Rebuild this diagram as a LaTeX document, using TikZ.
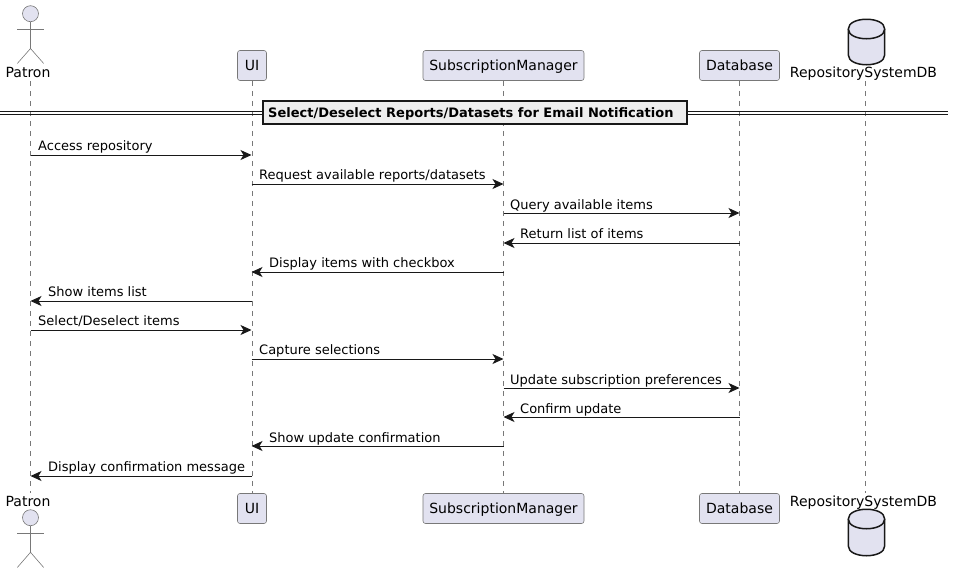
\documentclass[tikz,border=0pt]{standalone}
\usepackage{fontspec}
\setmainfont{DejaVu Sans}
\usepackage{tikz}
\usetikzlibrary{arrows.meta}
\definecolor{partfill}{HTML}{E2E2F0}
\definecolor{partline}{HTML}{181818}
\definecolor{softline}{HTML}{787878}
\definecolor{grpfill}{HTML}{EEEEEE}

\begin{document}
\begin{tikzpicture}[x = 1pt, y = -1pt,
                        part/.style={draw=softline, fill=partfill, line width=.6pt, rounded corners=2.5pt, inner sep=0, minimum height=30pt, font=\fontsize{14}{16}\selectfont, text height=12pt, text depth=3pt},
                        tag/.style={inner sep=0, font=\fontsize{14}{16}\selectfont, text height=12pt, text depth=3pt, anchor=base},
                        life/.style={draw=softline, line width=.6pt, dash pattern=on 5pt off 5pt},
                        limb/.style={draw=softline, line width=.6pt, fill=none},
                        dbase/.style={draw=partline, fill=partfill, line width=1.5pt},
                        msg/.style={draw=partline, line width=1pt, -{Stealth[length=11pt, width=10pt, inset=3pt]}},
                        txt/.style={inner sep=0, anchor=base west, text=black, font=\fontsize{13}{15}\selectfont}]
      \useasboundingbox (0,0) rectangle (954,573);

      % top row
      \node[tag] (patron1) at (28,77.5) {Patron};
      \node[part, minimum width=29pt] (ui1) at (252,65.5) {UI};
      \node[part, minimum width=161pt] (mgr1) at (503.5,65.5) {SubscriptionManager};
      \node[part, minimum width=80pt] (db1) at (739.5,65.5) {Database};
      \node[tag] (repo1) at (863.5,77.5) {RepositorySystemDB};

      % bottom row
      \node[tag] (patron2) at (28,506) {Patron};
      \node[part, minimum width=29pt] (ui2) at (252,508.5) {UI};
      \node[part, minimum width=161pt] (mgr2) at (503.5,508.5) {SubscriptionManager};
      \node[part, minimum width=80pt] (db2) at (739.5,508.5) {Database};
      \node[tag] (repo2) at (863.5,506) {RepositorySystemDB};

      % lifelines
      \coordinate (patrontop) at (30.5,81);
      \coordinate (patronbot) at (30.5,493);
      \coordinate (repotop) at (865.5,81);
      \coordinate (repobot) at (865.5,493);
      \draw[life] (patrontop) -- (patronbot);
      \draw[life] (ui1) -- (ui2);
      \draw[life] (mgr1) -- (mgr2);
      \draw[life] (db1) -- (db2);
      \draw[life] (repotop) -- (repobot);

      % actors
      \node[circle, draw=softline, fill=partfill, line width=.6pt, inner sep=0, minimum size=16pt] (head1) at (30.5,13.7) {};
      \draw[limb] (head1.south) -- (30.5,48.5);
      \draw[limb] (17.3,29.3) -- (43.7,29.3);
      \draw[limb] (17.3,63.5) -- (30.5,48.5) -- (43.7,63.5);
      \node[circle, draw=softline, fill=partfill, line width=.6pt, inner sep=0, minimum size=16pt] (head2) at (30.5,517.7) {};
      \draw[limb] (head2.south) -- (30.5,552.3);
      \draw[limb] (17.3,533.3) -- (43.7,533.3);
      \draw[limb] (17.3,567.5) -- (30.5,552.3) -- (43.7,567.5);

      % databases
      \draw[dbase] (848.3,29) .. controls (848.3,16) and (884.7,16) .. (884.7,29) -- (884.7,55) .. controls (884.7,68) and (848.3,68) .. (848.3,55) -- cycle;
      \draw[dbase] (848.3,29) .. controls (848.3,42) and (884.7,42) .. (884.7,29);
      \draw[dbase] (848.3,519) .. controls (848.3,506) and (884.7,506) .. (884.7,519) -- (884.7,546) .. controls (884.7,559) and (848.3,559) .. (848.3,546) -- cycle;
      \draw[dbase] (848.3,519) .. controls (848.3,532) and (884.7,532) .. (884.7,519);

      % divider
      \coordinate (divl1) at (0,111.5);
      \coordinate (divr1) at (948,111.5);
      \coordinate (divl2) at (0,114.5);
      \coordinate (divr2) at (948,114.5);
      \draw[partline, line width=1.1pt] (divl1) -- (divr1);
      \draw[partline, line width=1.1pt] (divl2) -- (divr2);
      \node[draw=partline, fill=grpfill, line width=2pt, inner sep=0, minimum width=424pt, minimum height=22.5pt] (sect) at (474.5,112.7) {};
      \node[txt, font=\fontsize{13}{15}\selectfont\bfseries] (secttxt) at (268,117) {Select/Deselect Reports/Datasets for Email Notification};

      % messages
      \coordinate (a1) at (30.5,155);   \coordinate (b1) at (251.5,155);
      \coordinate (a2) at (251.5,184);  \coordinate (b2) at (503.5,184);
      \coordinate (a3) at (503.5,213);  \coordinate (b3) at (739.5,213);
      \coordinate (a4) at (739.5,243);  \coordinate (b4) at (503.5,243);
      \coordinate (a5) at (503.5,272);  \coordinate (b5) at (251.5,272);
      \coordinate (a6) at (251.5,301);  \coordinate (b6) at (30.5,301);
      \coordinate (a7) at (30.5,330);   \coordinate (b7) at (251.5,330);
      \coordinate (a8) at (251.5,359);  \coordinate (b8) at (503.5,359);
      \coordinate (a9) at (503.5,388);  \coordinate (b9) at (739.5,388);
      \coordinate (a10) at (739.5,417); \coordinate (b10) at (503.5,417);
      \coordinate (a11) at (503.5,446); \coordinate (b11) at (251.5,446);
      \coordinate (a12) at (251.5,476); \coordinate (b12) at (30.5,476);

      \draw[msg] (a1) -- (b1);
      \draw[msg] (a2) -- (b2);
      \draw[msg] (a3) -- (b3);
      \draw[msg] (a4) -- (b4);
      \draw[msg] (a5) -- (b5);
      \draw[msg] (a6) -- (b6);
      \draw[msg] (a7) -- (b7);
      \draw[msg] (a8) -- (b8);
      \draw[msg] (a9) -- (b9);
      \draw[msg] (a10) -- (b10);
      \draw[msg] (a11) -- (b11);
      \draw[msg] (a12) -- (b12);

      \node[txt] (t1) at (38,150) {Access repository};
      \node[txt] (t2) at (259,179) {Request available reports/datasets};
      \node[txt] (t3) at (510,209.2) {Query available items};
      \node[txt] (t4) at (520,238) {Return list of items};
      \node[txt] (t5) at (269,267) {Display items with checkbox};
      \node[txt] (t6) at (48,296) {Show items list};
      \node[txt] (t7) at (38,325) {Select/Deselect items};
      \node[txt] (t8) at (259,354) {Capture selections};
      \node[txt] (t9) at (510,384.2) {Update subscription preferences};
      \node[txt] (t10) at (520,413.2) {Confirm update};
      \node[txt] (t11) at (269,442.2) {Show update confirmation};
      \node[txt] (t12) at (48,471) {Display confirmation message};
    \end{tikzpicture}
\end{document}
